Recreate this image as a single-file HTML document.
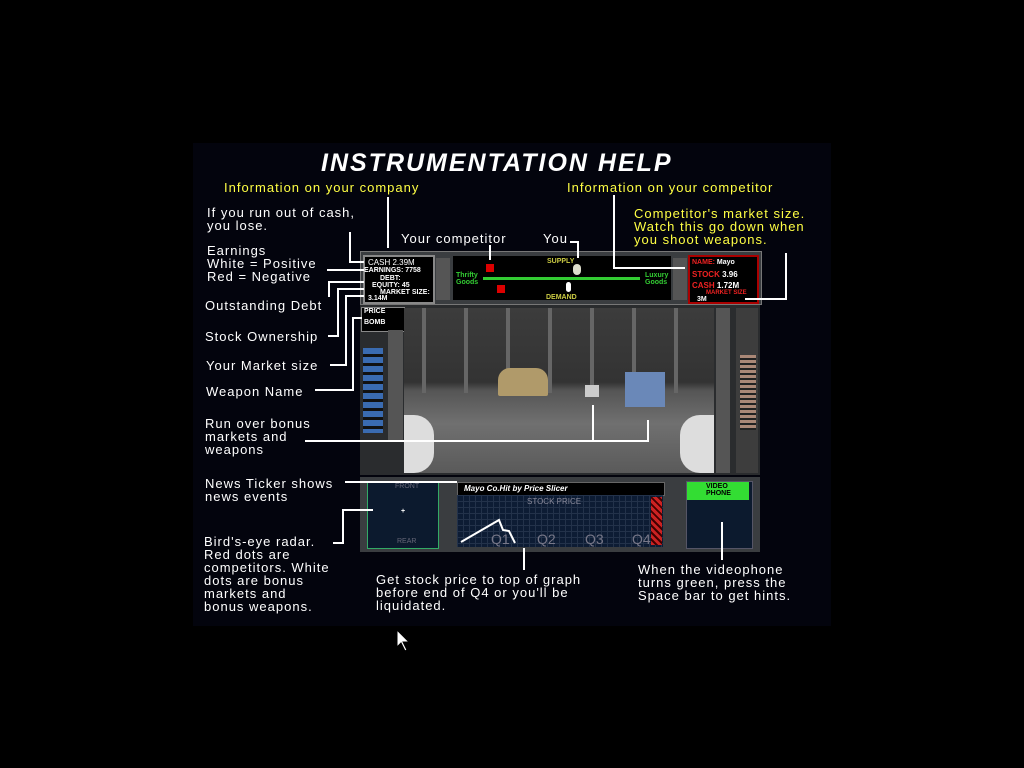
<!DOCTYPE html>
<html><head><meta charset="utf-8"><style>
body{margin:0;background:#000;width:1024px;height:768px;position:relative;overflow:hidden;font-family:"Liberation Sans",sans-serif}
.bg{position:absolute;left:193px;top:143px;width:638px;height:483px;background:#03040d}
.t{position:absolute;color:#fff;font-size:13px;letter-spacing:1px;line-height:13px;white-space:pre}
.y{color:#ffff44}
.a{position:absolute}
.s{position:absolute;font-size:7px;color:#fff;font-weight:bold;white-space:pre}
</style></head><body>
<div class="bg"></div>
<div class="t" style="left:321px;top:149px;font-size:25px;font-weight:bold;font-style:italic;letter-spacing:2px;line-height:28px">INSTRUMENTATION HELP</div>
<div class="t y" style="left:224px;top:181px">Information on your company</div>
<div class="t y" style="left:567px;top:181px">Information on your competitor</div>
<div class="t" style="left:207px;top:206px">If you run out of cash,
you lose.</div>
<div class="t y" style="left:634px;top:207px">Competitor's market size.
Watch this go down when
you shoot weapons.</div>
<div class="t" style="left:401px;top:232px">Your competitor</div>
<div class="t" style="left:543px;top:232px">You</div>
<div class="t" style="left:207px;top:244px">Earnings
White = Positive
Red = Negative</div>
<div class="t" style="left:205px;top:299px">Outstanding Debt</div>
<div class="t" style="left:205px;top:330px">Stock Ownership</div>
<div class="t" style="left:206px;top:359px">Your Market size</div>
<div class="t" style="left:206px;top:385px">Weapon Name</div>
<div class="t" style="left:205px;top:417px">Run over bonus
markets and
weapons</div>
<div class="t" style="left:205px;top:477px">News Ticker shows
news events</div>
<div class="t" style="left:204px;top:535px">Bird's-eye radar.
Red dots are
competitors. White
dots are bonus
markets and
bonus weapons.</div>
<div class="t" style="left:376px;top:573px">Get stock price to top of graph
before end of Q4 or you'll be
liquidated.</div>
<div class="t" style="left:638px;top:563px">When the videophone
turns green, press the
Space bar to get hints.</div>

<!-- top bar -->
<div class="a" style="left:360px;top:251px;width:400px;height:52px;background:#3a3d40;border:1px solid #777"></div>
<div class="a" style="left:363px;top:255px;width:68px;height:45px;background:#000;border:2px solid #888"></div>
<div class="s" style="left:368px;top:258px;font-size:8px;font-weight:normal">CASH 2.39M</div>
<div class="s" style="left:364px;top:267px">EARNINGS: 7758</div>
<div class="s" style="left:380px;top:275px">DEBT:</div>
<div class="s" style="left:372px;top:282px">EQUITY: 45</div>
<div class="s" style="left:380px;top:289px">MARKET SIZE:</div>
<div class="s" style="left:368px;top:295px">3.14M</div>
<div class="a" style="left:436px;top:258px;width:14px;height:42px;background:#555"></div>
<div class="a" style="left:453px;top:256px;width:218px;height:44px;background:#000"></div>
<div class="a" style="left:483px;top:277px;width:157px;height:3px;background:#3c3"></div>
<div class="s" style="left:456px;top:272px;color:#3c3">Thrifty
Goods</div>
<div class="s" style="left:645px;top:272px;color:#3c3">Luxury
Goods</div>
<div class="s" style="left:547px;top:258px;color:#cc4">SUPPLY</div>
<div class="s" style="left:546px;top:294px;color:#cc4">DEMAND</div>
<div class="a" style="left:486px;top:264px;width:8px;height:8px;background:#d00"></div>
<div class="a" style="left:497px;top:285px;width:8px;height:8px;background:#d00"></div>
<div class="a" style="left:573px;top:264px;width:8px;height:11px;background:#ddc;border-radius:4px"></div>
<div class="a" style="left:566px;top:282px;width:5px;height:10px;background:#fff;border-radius:3px"></div>
<div class="a" style="left:673px;top:258px;width:14px;height:42px;background:#555"></div>
<div class="a" style="left:688px;top:255px;width:67px;height:45px;background:#000;border:2px solid #a00"></div>
<div class="s" style="left:692px;top:259px;color:#e22">NAME: <span style="color:#fff">Mayo</span></div>
<div class="s" style="left:692px;top:270px;color:#e22;font-size:8px">STOCK <span style="color:#fff">3.96</span></div>
<div class="s" style="left:692px;top:281px;color:#e22;font-size:8px">CASH <span style="color:#fff">1.72M</span></div>
<div class="s" style="left:706px;top:290px;color:#e22;font-size:6px">MARKET SIZE</div>
<div class="s" style="left:697px;top:296px">3M</div>

<!-- main view -->
<div class="a" style="left:360px;top:305px;width:400px;height:170px;background:#2a2c2e"></div>
<div class="a" style="left:361px;top:307px;width:42px;height:23px;background:#000;border:1px solid #888"></div>
<div class="s" style="left:364px;top:308px">PRICE</div>
<div class="s" style="left:364px;top:319px">BOMB</div>
<div class="a" style="left:363px;top:348px;width:20px;height:85px;background:repeating-linear-gradient(#3a6bb0 0 6px,#111 6px 9px)"></div>
<div class="a" style="left:388px;top:330px;width:15px;height:110px;background:#555"></div>
<div class="a" style="left:404px;top:308px;width:310px;height:165px;background:linear-gradient(#3c3c3c 0,#333 45%,#555 50%,#707070 70%,#5a5a5a 100%)"></div>
<div class="a" style="left:404px;top:308px;width:310px;height:85px;background:repeating-linear-gradient(90deg,transparent 0 18px,#666 18px 22px,transparent 22px 42px)"></div>
<div class="a" style="left:498px;top:368px;width:50px;height:28px;background:#b09a6a;border-radius:12px 12px 2px 2px"></div>
<div class="a" style="left:585px;top:385px;width:14px;height:12px;background:#ccc"></div>
<div class="a" style="left:625px;top:372px;width:40px;height:35px;background:#6a88b8"></div>
<div class="a" style="left:404px;top:415px;width:30px;height:58px;background:#ddd;border-radius:0 20px 20px 0"></div>
<div class="a" style="left:680px;top:415px;width:34px;height:58px;background:#ddd;border-radius:20px 0 0 20px"></div>
<div class="a" style="left:716px;top:308px;width:14px;height:165px;background:#555"></div>
<div class="a" style="left:736px;top:308px;width:22px;height:165px;background:#3d3d3d"></div>
<div class="a" style="left:740px;top:355px;width:16px;height:75px;background:repeating-linear-gradient(#a87 0 3px,#222 3px 5px)"></div>

<!-- bottom -->
<div class="a" style="left:360px;top:477px;width:400px;height:75px;background:#3a3d40"></div>
<div class="a" style="left:367px;top:481px;width:70px;height:66px;background:#0c1a2e;border:1px solid #3a6"></div>
<div class="s" style="left:395px;top:483px;color:#667;font-weight:normal">FRONT</div>
<div class="s" style="left:397px;top:538px;color:#667;font-weight:normal">REAR</div>
<div class="s" style="left:401px;top:508px">+</div>
<div class="a" style="left:457px;top:482px;width:206px;height:12px;background:#000;border:1px solid #666"></div>
<div class="s" style="left:464px;top:484px;font-style:italic;font-size:8px">Mayo Co.Hit by Price Slicer</div>
<div class="a" style="left:457px;top:495px;width:206px;height:52px;background:#0d1c34;background-image:linear-gradient(#23324a 1px,transparent 1px),linear-gradient(90deg,#23324a 1px,transparent 1px);background-size:6px 6px"></div>
<div class="s" style="left:527px;top:497px;color:#889;font-size:8px;font-weight:normal">STOCK PRICE</div>
<div class="s" style="left:491px;top:531px;color:#778;font-size:14px;font-weight:normal">Q1</div>
<div class="s" style="left:537px;top:531px;color:#778;font-size:14px;font-weight:normal">Q2</div>
<div class="s" style="left:585px;top:531px;color:#778;font-size:14px;font-weight:normal">Q3</div>
<div class="s" style="left:632px;top:531px;color:#778;font-size:14px;font-weight:normal">Q4</div>
<div class="a" style="left:651px;top:497px;width:11px;height:48px;background:repeating-linear-gradient(45deg,#c22 0 3px,#400 3px 5px)"></div>
<div class="a" style="left:686px;top:481px;width:65px;height:66px;background:#0c1a2e;border:1px solid #556"></div>
<div class="a" style="left:687px;top:482px;width:62px;height:18px;background:#3d3"></div>
<div class="s" style="left:706px;top:483px;color:#000">VIDEO
PHONE</div>

<svg class="a" style="left:0;top:0" width="1024" height="768">
<g stroke="#fff" stroke-width="2" fill="none">
<path d="M388 197V248"/>
<path d="M350 232V262H364"/>
<path d="M327 270H364"/>
<path d="M329 297V282H364"/>
<path d="M328 336H338V289H364"/>
<path d="M330 365H346V296H364"/>
<path d="M315 390H353V318H362"/>
<path d="M490 245V260"/>
<path d="M570 242H578V258"/>
<path d="M614 195V268H685"/>
<path d="M786 253V299H745"/>
<path d="M305 441H648V420M593 441V405"/>
<path d="M345 482H457"/>
<path d="M333 543H343V510H373"/>
<path d="M461 542L499 520L503 530L509 531L515 543"/>
<path d="M524 548V570"/>
<path d="M722 522V560"/>
</g>
<path d="M397 630V647L401 643L405 651L407 650L403 642L409 642Z" fill="#fff" stroke="#000" stroke-width="1"/>
</svg>
</body></html>
